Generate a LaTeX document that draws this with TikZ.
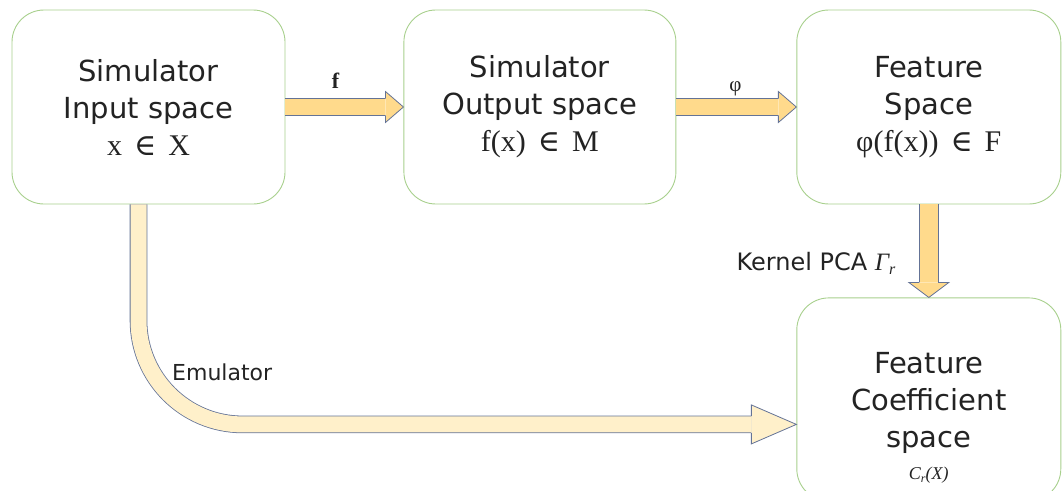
\documentclass[tikz,border=0pt]{standalone}
\usepackage{fontspec}
\usepackage{tikz}
\usetikzlibrary{positioning}
\newfontfamily\sansfam{DejaVu Sans}
\newfontfamily\seriffam{Liberation Serif}
\newfontfamily\symfam{DejaVu Serif}
\definecolor{greenline}{RGB}{168,208,141}
\definecolor{gold}{RGB}{255,218,140}
\definecolor{lightgold}{RGB}{255,240,202}
\definecolor{slate}{RGB}{100,115,150}
\definecolor{ink}{RGB}{35,35,35}
\newcommand{\elem}{\hspace{0.4em}{\symfam ∈}\hspace{0.4em}}
\tikzset{
  spacebox/.style={rectangle,rounded corners=32pt,draw=greenline,line width=0.9pt,fill=white,
    minimum height=194pt,align=center,text=ink,inner sep=0pt,
    font=\sansfam\fontsize{29}{37}\selectfont},
  band/.style={draw=slate,line width=0.8pt,double=gold,double distance=16pt},
  bandhead/.style={draw=slate,line width=0.8pt,fill=gold,line join=miter},
  lbl/.style={inner sep=0pt,text=ink,font=\sansfam\fontsize{22}{26}\selectfont},
  maplbl/.style={inner sep=0pt,text=ink,font=\seriffam\fontsize{21}{24}\selectfont}
}
\begin{document}
\begin{tikzpicture}[x=1pt,y=-1pt]
  \useasboundingbox (0,0) rectangle (1062,490);
  \node[spacebox,minimum width=273pt] (in) at (148.5,107)
    {Simulator\\Input space\\{\seriffam\fontsize{30}{37}\selectfont x\elem X}};
  \node[spacebox,minimum width=272pt,right=118pt of in] (out)
    {Simulator\\Output space\\{\seriffam\fontsize{30}{37}\selectfont f(x)\elem M}};
  \node[spacebox,minimum width=264pt,right=120pt of out] (feat)
    {Feature\\Space\\{\seriffam\fontsize{30}{37}\selectfont φ(f(x))\elem F}};
  \node[spacebox,minimum width=264pt,minimum height=203pt,below=93pt of feat] (coef)
    {\rule{0pt}{58pt}Feature\\Coefficient\\space\\[-5pt]{\seriffam\itshape\fontsize{18}{20}\selectfont
      C\raisebox{-3pt}{\fontsize{12}{13}\selectfont r}(X)}};
  \coordinate (fbase) at ([xshift=-18pt]out.west);
  \draw[band] (in.east) -- node[maplbl,above=18pt,font=\seriffam\bfseries\fontsize{22}{24}\selectfont] (flbl) {f} (fbase);
  \filldraw[bandhead] ([yshift=8.4pt]fbase) -- ([yshift=15.5pt]fbase) -- (out.west)
    -- ([yshift=-15.5pt]fbase) -- ([yshift=-8.4pt]fbase);
  \coordinate (pbase) at ([xshift=-18pt]feat.west);
  \draw[band] (out.east) -- node[maplbl,pos=0.58,above=11pt] (plbl) {φ} (pbase);
  \filldraw[bandhead] ([yshift=8.4pt]pbase) -- ([yshift=15.5pt]pbase) -- (feat.west)
    -- ([yshift=-15.5pt]pbase) -- ([yshift=-8.4pt]pbase);
  \coordinate (kbase) at ([yshift=-78pt]feat.south);
  \draw[band,double distance=18pt] (feat.south) -- node[lbl,pos=0.75,left=33pt,font=\sansfam\fontsize{24}{26}\selectfont] (kpca)
    {Kernel PCA {\seriffam\itshape\fontsize{25}{26}\selectfont Γ\raisebox{-4pt}{\fontsize{16}{16}\selectfont r}}} (kbase);
  \filldraw[bandhead] ([xshift=-9.4pt]kbase) -- ([xshift=-20pt]kbase) -- (coef.north)
    -- ([xshift=20pt]kbase) -- ([xshift=9.4pt]kbase);
  \coordinate (etip) at ([yshift=-25pt]coef.west);
  \coordinate (ebase) at ([xshift=-45pt]etip);
  \draw[band,double=lightgold,rounded corners=104pt] ([xshift=-10pt]in.south) |- (ebase);
  \filldraw[bandhead,fill=lightgold] ([yshift=8.4pt]ebase) -- ([yshift=19.5pt]ebase) -- (etip)
    -- ([yshift=-19.5pt]ebase) -- ([yshift=-8.4pt]ebase);
  \node[lbl,anchor=base west] (emul) at (172,380) {Emulator};
\end{tikzpicture}
\end{document}
